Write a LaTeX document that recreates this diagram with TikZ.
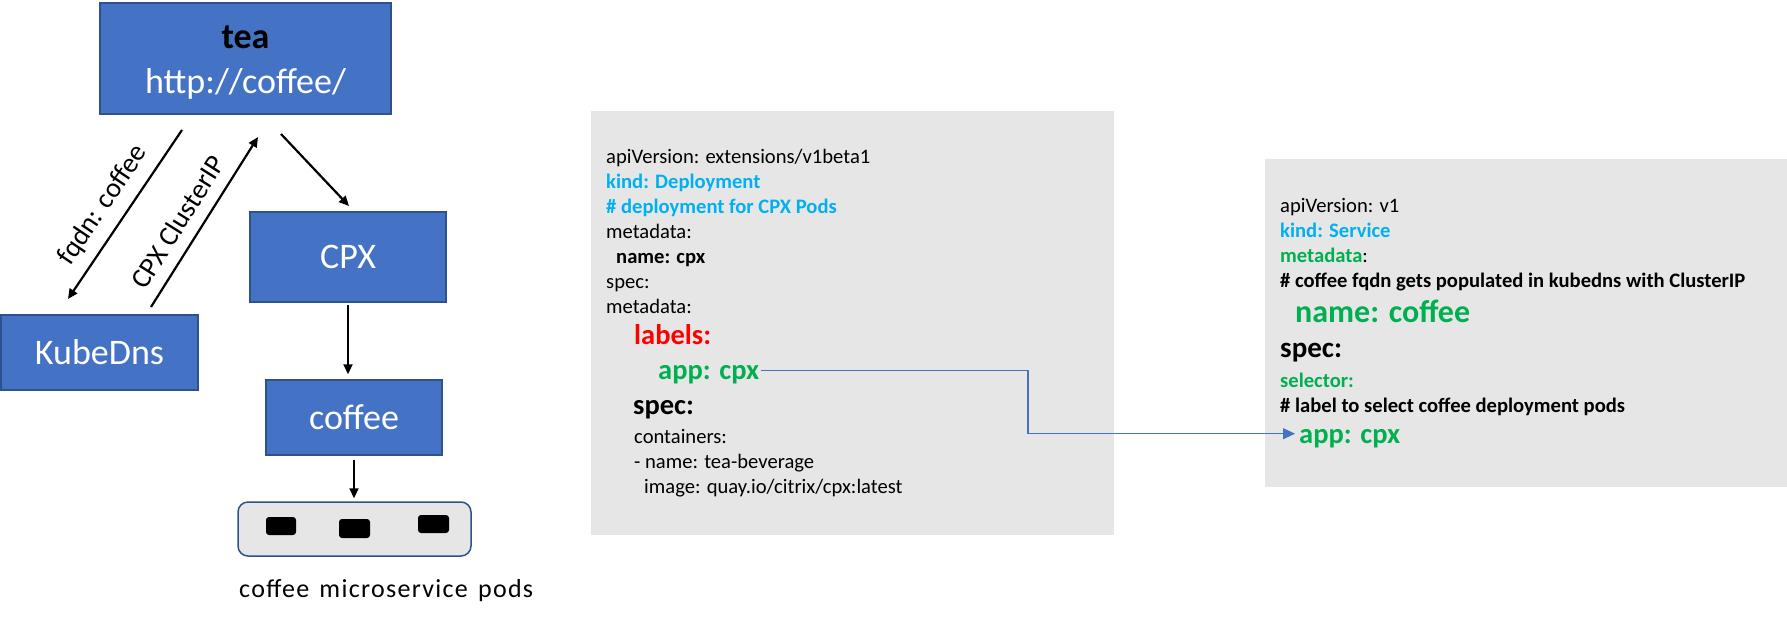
\documentclass[tikz,border=0pt]{standalone}
\usepackage{fontspec}
\setmainfont{Carlito}
\newfontfamily\podfont[LetterSpace=5]{Carlito}
\usetikzlibrary{arrows.meta,calc}
\definecolor{boxblue}{HTML}{4472C4}
\definecolor{boxedge}{HTML}{2F528F}
\definecolor{codegray}{HTML}{E7E6E6}
\definecolor{cyantext}{HTML}{00B0F0}
\definecolor{greentext}{HTML}{00B050}
\definecolor{redtext}{HTML}{FF0000}
\begin{document}
\begin{tikzpicture}[x=1pt,y=-1pt,
  bluebox/.style={draw=boxedge, line width=1.5pt, fill=boxblue, text=white,
    font=\fontsize{36}{40}\selectfont, inner sep=0pt},
  flow/.style={-{Triangle[length=10pt,width=9pt]}, line width=2.2pt},
  link/.style={draw=boxblue, line width=1.1pt, -{Triangle[length=12pt,width=11pt]}},
  code/.style={anchor=base west, inner sep=0pt, font=\fontsize{20.6}{24}\selectfont},
  codeb/.style={code, font=\fontsize{20.6}{24}\selectfont\bfseries},
  codebig/.style={code, font=\fontsize{28.5}{32}\selectfont\bfseries},
  graybox/.style={fill=codegray, inner sep=0pt, anchor=north west},
  podchip/.style={fill=black, rounded corners=3pt, inner sep=0pt},
  edgelabel/.style={inner sep=0pt, font=\fontsize{28}{32}\selectfont}
]
\useasboundingbox (0,0) rectangle (1787,624);

% left flow
\node[bluebox, minimum width=291pt, minimum height=111pt] (tea) at (245.5,58.5) {};
\node[anchor=base, inner sep=0pt, font=\fontsize{36}{40}\selectfont\bfseries, text=black] (teaname) at (245.5,48) {tea};
\node[anchor=base, inner sep=0pt, font=\fontsize{36}{40}\selectfont, text=white] (teaurl) at (245.5,93) {http://coffee/};

\node[bluebox, minimum width=196pt, minimum height=90pt] (cpx) at (348,257) {CPX};
\node[bluebox, minimum width=197pt, minimum height=75pt] (kubedns) at (99.5,352.5) {KubeDns};
\node[bluebox, minimum width=176pt, minimum height=75pt] (coffee) at (354,417.5) {coffee};

\node[draw=boxedge, line width=1.5pt, fill=codegray, rounded corners=10pt,
      minimum width=233pt, minimum height=54pt, inner sep=0pt] (pods) at (354.5,529) {};
\node[podchip, minimum width=30pt, minimum height=18pt] (pod1) at (281,526) {};
\node[podchip, minimum width=31pt, minimum height=19pt] (pod2) at (354.5,528.5) {};
\node[podchip, minimum width=31pt, minimum height=18pt] (pod3) at (433.5,524) {};
\node[anchor=base west, inner sep=0pt, font=\fontsize{26}{30}\podfont] (podtext) at (239,597.5) {coffee\hspace{3pt} microservice\hspace{3pt} pods};

\coordinate (fqA) at (182,130);
\coordinate (fqB) at (68,299);
\coordinate (ipA) at (151,307);
\coordinate (ipB) at (258,137);
\coordinate (cxA) at (281,134);
\coordinate (cxB) at (349,206);
\draw[flow] (fqA) -- (fqB);
\draw[flow] (ipA) -- (ipB);
\draw[flow] (cxA) -- (cxB);
\draw[flow, shorten <=2pt, shorten >=5pt] (cpx.south) -- (cpx.south |- coffee.north);
\draw[flow, shorten <=4pt, shorten >=3pt] (coffee.south) -- (coffee.south |- pods.north);

\node[edgelabel, rotate=56] (fqlabel) at (103,205) {fqdn: coffee};
\node[edgelabel, rotate=57.8] (iplabel) at (178,222) {CPX ClusterIP};

% deployment yaml
\node[graybox, minimum width=523pt, minimum height=424pt] (dep) at (591,111) {};
\node[code] (d1) at (606,163) {apiVersion: extensions/v1beta1};
\node[codeb, text=cyantext] (d2) at (606,188) {kind: Deployment};
\node[codeb, text=cyantext] (d3) at (606,213) {\# deployment for CPX Pods};
\node[code] (d4) at (606,238) {metadata:};
\node[codeb] (d5) at (616,263) {name: cpx};
\node[code] (d6) at (606,288) {spec:};
\node[code] (d7) at (606,313) {metadata:};
\node[codebig, text=redtext] (d8) at (634,344) {labels:};
\node[codebig, text=greentext] (app1) at (658,379) {app: cpx};
\node[codebig] (d10) at (633,414) {spec:};
\node[code] (d11) at (634,443) {containers:};
\node[code] (d12) at (634,468) {- name: tea-beverage};
\node[code] (d13) at (644,493) {image: quay.io/citrix/cpx:latest};

% service yaml
\node[graybox, minimum width=522pt, minimum height=328pt] (svc) at (1265,159) {};
\node[code] (s1) at (1280,212) {apiVersion: v1};
\node[codeb, text=cyantext] (s2) at (1280,237) {kind: Service};
\node[code] (s3) at (1280,262) {\textbf{\textcolor{greentext}{metadata}}:};
\node[codeb] (s4) at (1280,287) {\# coffee fqdn gets populated in kubedns with ClusterIP};
\node[code, font=\fontsize{32}{36}\selectfont\bfseries, text=greentext] (s5) at (1295,322) {name: coffee};
\node[code, font=\fontsize{29}{33}\selectfont\bfseries] (s6) at (1280,357) {spec:};
\node[codeb, text=greentext] (s7) at (1280,387) {selector:};
\node[codeb] (s8) at (1280,412) {\# label to select coffee deployment pods};
\node[codebig, text=greentext] (app2) at (1299,443) {app: cpx};

\coordinate (linkA) at ($(app1.base east)+(2,-8.3)$);
\coordinate (linkBend) at (1028,433.7);
\coordinate (linkB) at ($(app2.base west)+(-4,-9.3)$);
\draw[link] (linkA) -| (linkBend) -- (linkB);
\end{tikzpicture}
\end{document}
